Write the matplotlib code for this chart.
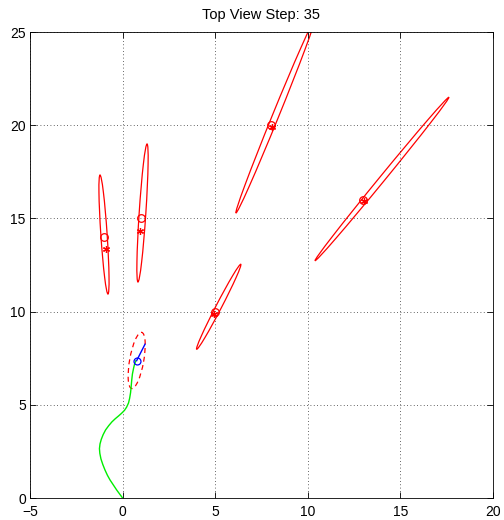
import matplotlib
matplotlib.use("Agg")
import matplotlib.pyplot as plt
from matplotlib.patches import Ellipse

plt.rcParams['font.family'] = ['Liberation Sans', 'DejaVu Sans']

# True landmarks
true_lm_x = [-1, 1, 5, 8, 13]
true_lm_y = [14, 15, 10, 20, 16]
# Estimated landmarks
est_lm_x = [-0.92, 0.96, 4.92, 8.08, 13.05]
est_lm_y = [13.38, 14.32, 9.85, 19.93, 15.95]
# Landmark covariance ellipses: centre, semi-axes, angle (deg)
ell_cx = [-1.005, 1.075, 5.19, 8.235, 14.005]
ell_cy = [14.135, 15.29, 10.26, 20.445, 17.115]
ell_a = [3.20, 3.71, 2.57, 5.57, 5.68]
ell_b = [0.17, 0.18, 0.15, 0.17, 0.15]
ell_ang = [93.85, 86.2, 62.4, 67.7, 50.5]

# Robot path
path_x = [0.00, -0.15, -0.32, -0.50, -0.68, -0.82, -0.95, -1.07, -1.17, -1.23,
          -1.25, -1.22, -1.15, -1.05, -0.92, -0.75, -0.58, -0.40, -0.22, -0.05,
          0.10, 0.22, 0.32, 0.38, 0.43, 0.46, 0.49, 0.53, 0.59, 0.65, 0.72]
path_y = [0.00, 0.20, 0.43, 0.70, 0.97, 1.22, 1.50, 1.80, 2.10, 2.40,
          2.65, 2.90, 3.15, 3.40, 3.65, 3.88, 4.08, 4.25, 4.40, 4.55,
          4.70, 4.88, 5.10, 5.35, 5.65, 5.95, 6.30, 6.65, 6.95, 7.20, 7.37]
# Robot pose
robot_x, robot_y = 0.76, 7.37
head_x, head_y = 1.21, 8.25
rob_ell = dict(cx=0.76, cy=7.38, a=1.53, b=0.38, ang=79.8)

fig = plt.figure(figsize=(5.04, 5.2), dpi=100)
ax = fig.add_axes([30/504, 22/520, 463/504, 466/520])

for cx, cy, a, b, ang in zip(ell_cx, ell_cy, ell_a, ell_b, ell_ang):
    ax.add_patch(Ellipse((cx, cy), 2*a, 2*b, angle=ang, fill=False,
                         edgecolor='red', linewidth=0.9))

ax.plot(true_lm_x, true_lm_y, 'o', mfc='none', mec='red', ms=5.5, mew=0.9)
ax.plot(est_lm_x, est_lm_y, marker=(6, 2, 0), linestyle='none', color='red', ms=5, mew=0.9)

ax.plot(path_x, path_y, color='#00ee00', linewidth=1.0, solid_joinstyle='round')
ax.add_patch(Ellipse((rob_ell['cx'], rob_ell['cy']), 2*rob_ell['a'], 2*rob_ell['b'],
                     angle=rob_ell['ang'], fill=False, edgecolor='red',
                     linestyle=(0, (4, 3)), linewidth=0.9))
ax.plot([robot_x, head_x], [robot_y, head_y], color='blue', linewidth=1.0)
ax.plot([robot_x], [robot_y], 'o', mfc='none', mec='blue', ms=5, mew=0.9)

ax.set_xlim(-5, 20)
ax.set_ylim(0, 25)
ax.set_xticks([-5, 0, 5, 10, 15, 20])
ax.set_yticks([0, 5, 10, 15, 20, 25])
ax.grid(True, linestyle=(0, (1, 3)), color='#333333', linewidth=0.6)
ax.tick_params(direction='in', top=True, right=True, labelsize=10, length=4, width=0.6)
ax.tick_params(axis='x', pad=5)
ax.tick_params(axis='y', pad=3)
for s in ax.spines.values():
    s.set_linewidth(0.6)
ax.set_title('Top View Step: 35', fontsize=10.5, pad=9)

fig.savefig('out.png', dpi=100)
